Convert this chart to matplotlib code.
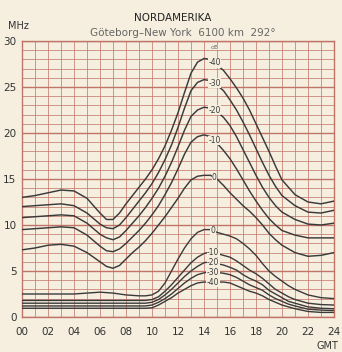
import numpy as np
import matplotlib
matplotlib.use('Agg')
import matplotlib.pyplot as plt

# hours (GMT) for the upper (MUF side) curves
hours_up = [0, 1, 2, 3, 4, 5, 6, 6.5, 7, 7.5, 8, 8.5, 9, 9.5, 10, 10.5, 11, 11.5, 12, 12.5,
            13, 13.5, 14, 14.5, 15, 15.5, 16, 16.5, 17, 17.5, 18, 18.5, 19, 19.5, 20, 21, 22, 23, 24]
up_m40 = [13.0, 13.2, 13.5, 13.8, 13.7, 12.9, 11.3, 10.6, 10.6, 11.3, 12.3, 13.2, 14.1, 15.0, 16.0, 17.2,
          18.6, 20.3, 22.2, 24.4, 26.5, 27.7, 28.1, 28.0, 27.4, 26.8, 25.9, 24.9, 23.8, 22.5, 21.0, 19.5,
          18.0, 16.4, 14.9, 13.3, 12.5, 12.3, 12.6]
up_m30 = [12.0, 12.1, 12.2, 12.3, 12.1, 11.3, 10.1, 9.7, 9.6, 10.0, 10.8, 11.7, 12.6, 13.5, 14.5, 15.7,
          17.1, 18.7, 20.6, 22.7, 24.6, 25.5, 25.8, 25.7, 25.2, 24.6, 23.6, 22.5, 21.2, 19.8, 18.3, 16.8,
          15.4, 14.2, 13.2, 12.1, 11.4, 11.3, 11.6]
up_m20 = [10.8, 10.9, 11.0, 11.1, 11.0, 10.2, 9.0, 8.6, 8.4, 8.7, 9.4, 10.2, 11.0, 11.9, 12.9, 14.0,
          15.3, 16.8, 18.5, 20.3, 21.8, 22.5, 22.8, 22.7, 22.3, 21.7, 20.8, 19.6, 18.2, 16.8, 15.4, 14.1,
          13.0, 12.1, 11.4, 10.6, 10.1, 10.0, 10.2]
up_m10 = [9.5, 9.6, 9.7, 9.8, 9.7, 8.9, 7.7, 7.2, 7.1, 7.4, 8.0, 8.7, 9.4, 10.2, 11.1, 12.1,
          13.3, 14.6, 16.1, 17.7, 19.0, 19.6, 19.8, 19.6, 18.9, 18.1, 17.2, 16.1, 14.9, 13.7, 12.6, 11.6,
          10.7, 10.0, 9.4, 8.9, 8.6, 8.6, 8.6]
up_0 = [7.3, 7.5, 7.8, 7.9, 7.7, 7.0, 6.0, 5.5, 5.3, 5.6, 6.3, 7.0, 7.6, 8.3, 9.1, 10.0,
        10.9, 11.9, 12.9, 14.0, 14.9, 15.3, 15.4, 15.4, 15.0, 14.3, 13.5, 12.8, 12.1, 11.5, 10.8, 10.0,
        9.1, 8.4, 7.8, 7.0, 6.6, 6.7, 7.0]

# hours for the lower (LUF side) curves
hours_lo = [0, 1, 2, 3, 4, 5, 6, 7, 8, 9, 9.5, 10, 10.5, 11, 11.5, 12, 12.5, 13, 13.5, 14, 14.5,
            15, 15.5, 16, 16.5, 17, 17.5, 18, 18.5, 19, 19.5, 20, 20.5, 21, 22, 23, 24]
lo_0 = [2.5, 2.5, 2.5, 2.5, 2.5, 2.6, 2.7, 2.6, 2.4, 2.3, 2.3, 2.4, 2.8, 3.7, 5.0, 6.3, 7.5, 8.5, 9.2, 9.5, 9.5,
        9.2, 9.0, 8.8, 8.5, 8.0, 7.4, 6.7, 5.8, 5.0, 4.4, 3.9, 3.4, 3.0, 2.4, 2.1, 2.0]
lo_m10 = [1.8, 1.8, 1.8, 1.8, 1.8, 1.8, 1.8, 1.8, 1.8, 1.8, 1.8, 1.9, 2.2, 2.8, 3.5, 4.3, 5.1, 5.9, 6.5, 6.9, 7.1,
          6.9, 6.7, 6.5, 6.1, 5.6, 5.1, 4.7, 4.2, 3.6, 3.0, 2.6, 2.2, 1.9, 1.5, 1.35, 1.3]
lo_m20 = [1.5, 1.5, 1.5, 1.5, 1.5, 1.5, 1.5, 1.5, 1.5, 1.5, 1.5, 1.6, 1.9, 2.4, 3.0, 3.7, 4.4, 5.0, 5.5, 5.9, 6.0,
          5.8, 5.65, 5.4, 5.1, 4.6, 4.2, 3.9, 3.5, 2.9, 2.5, 2.1, 1.7, 1.5, 1.1, 0.95, 0.9]
lo_m30 = [1.2, 1.2, 1.2, 1.2, 1.2, 1.2, 1.2, 1.2, 1.2, 1.2, 1.2, 1.3, 1.6, 2.0, 2.5, 3.1, 3.7, 4.2, 4.6, 4.8, 4.9,
          4.85, 4.75, 4.6, 4.3, 3.9, 3.5, 3.2, 2.9, 2.4, 2.0, 1.7, 1.4, 1.2, 0.85, 0.75, 0.7]
lo_m40 = [0.95, 0.95, 0.95, 0.95, 0.95, 0.95, 0.95, 0.95, 0.95, 0.95, 0.95, 1.0, 1.3, 1.7, 2.1, 2.6, 3.0, 3.4, 3.7, 3.8, 3.8,
          3.8, 3.8, 3.7, 3.4, 3.1, 2.8, 2.6, 2.3, 1.9, 1.6, 1.3, 1.1, 0.9, 0.6, 0.5, 0.5]

up_curves = [up_m40, up_m30, up_m20, up_m10, up_0]
lo_curves = [lo_0, lo_m10, lo_m20, lo_m30, lo_m40]
curve_labels = ['-40', '-30', '-20', '-10', '0']
lo_labels = ['0', '-10', '-20', '-30', '-40']
x_ticks = list(range(0, 25, 2))
x_ticklabels = ['%02d' % h for h in x_ticks]
y_ticks = list(range(0, 31, 5))

bg = '#f6efdf'
grid_c = '#c07468'
ink = '#3a3a3a'

fig = plt.figure(figsize=(3.42, 3.52), dpi=100, facecolor=bg)
ax = fig.add_axes([22 / 342, 1 - 317 / 352, 312 / 342, 276 / 352])
ax.set_facecolor(bg)

for ys in up_curves:
    ax.plot(hours_up, ys, color=ink, lw=1.05, solid_capstyle='round', zorder=3)
for ys in lo_curves:
    ax.plot(hours_lo, ys, color=ink, lw=1.0, solid_capstyle='round', zorder=3)

# curve labels sit on the curve near the daytime peak
box = dict(boxstyle='square,pad=0.05', fc=bg, ec='none')
for ys, lab in zip(up_curves, curve_labels):
    y = np.interp(14.8, hours_up, ys)
    ax.text(14.8, y, lab, fontsize=5.5, color=ink, ha='center', va='center', bbox=box, zorder=4)
for ys, lab in zip(lo_curves, lo_labels):
    y = np.interp(14.7, hours_lo, ys)
    ax.text(14.7, y, lab, fontsize=5.5, color=ink, ha='center', va='center', bbox=box, zorder=4)
ax.text(14.8, 29.3, 'dB', fontsize=4.5, color='#666666', ha='center', va='center', bbox=box, zorder=4)

ax.set_xlim(0, 24)
ax.set_ylim(0, 30)
ax.set_xticks(x_ticks)
ax.set_xticklabels(x_ticklabels)
ax.set_yticks(y_ticks)
ax.set_xticks(range(25), minor=True)
ax.set_yticks(range(31), minor=True)
ax.tick_params(which='both', length=0, labelsize=7.5, colors='#333333')
ax.tick_params(axis='x', pad=7)
ax.tick_params(axis='y', pad=4)
ax.grid(which='minor', color=grid_c, lw=0.6, alpha=0.85)
ax.grid(which='major', axis='x', color=grid_c, lw=0.6, alpha=0.85)
ax.grid(which='major', axis='y', color=grid_c, lw=1.0)
for s in ax.spines.values():
    s.set_color(grid_c)
    s.set_linewidth(1.0)

fig.text(173 / 342, 1 - 18 / 352, 'NORDAMERIKA', fontsize=7.5, color='#222222', ha='center', va='center')
fig.text(183 / 342, 1 - 33 / 352, 'Göteborg\u2013New York  6100 km  292°', fontsize=7.5, color='#666666',
         ha='center', va='center')
fig.text(8 / 342, 1 - 26 / 352, 'MHz', fontsize=7, color='#333333', ha='left', va='center')
fig.text(338 / 342, 1 - 346 / 352, 'GMT', fontsize=7, color='#333333', ha='right', va='center')

fig.savefig('out.png', dpi=100, facecolor=bg)
